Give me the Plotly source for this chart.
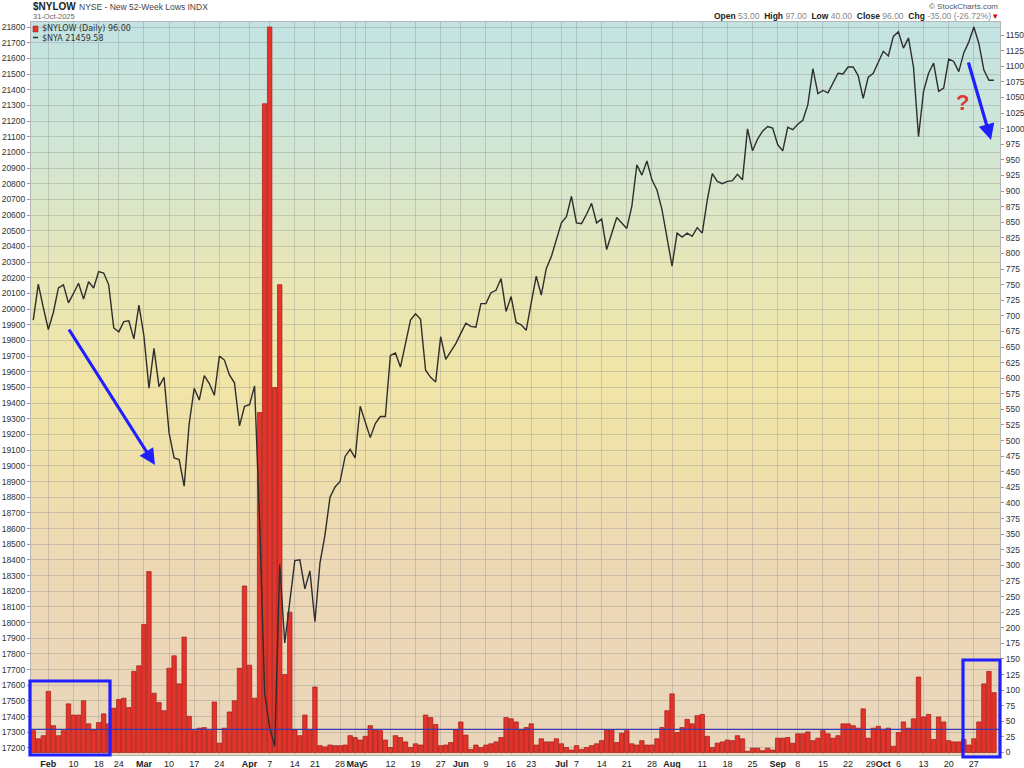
import plotly.graph_objects as go
import pandas as pd

# ---------------- data ----------------
HOLIDAYS = ["2025-02-17", "2025-04-18", "2025-05-26", "2025-06-19", "2025-07-04", "2025-09-01"]
START_DATE = "2025-01-29"
END_DATE = "2025-10-31"
dates = [d.strftime("%Y-%m-%d") for d in pd.bdate_range(START_DATE, END_DATE)
         if d.strftime("%Y-%m-%d") not in HOLIDAYS]

# $NYLOW daily new 52-week lows (right axis)
NYLOW = [35, 22, 27, 98, 43, 27, 35, 78, 60, 60,
         83, 46, 36, 48, 62, 46, 71, 85, 87, 72,
         130, 139, 205, 290, 95, 80, 67, 135, 155, 110,
         185, 58, 35, 39, 40, 35, 81, 15, 39, 65,
         83, 135, 267, 140, 87, 545, 1040, 1163, 585, 750,
         125, 225, 36, 27, 60, 36, 105, 11, 9, 12,
         11, 11, 12, 27, 24, 20, 26, 43, 36, 35,
         20, 8, 27, 24, 17, 8, 14, 12, 60, 56,
         45, 11, 12, 16, 36, 49, 28, 5, 12, 8,
         12, 14, 17, 24, 56, 54, 49, 36, 40, 46,
         12, 22, 17, 17, 22, 14, 8, 4, 11, 5,
         8, 11, 14, 19, 36, 36, 16, 31, 35, 14,
         12, 19, 12, 12, 22, 40, 67, 94, 32, 40,
         53, 46, 59, 61, 26, 8, 15, 17, 20, 19,
         27, 22, 2, 7, 7, 3, 7, 4, 23, 23,
         24, 15, 30, 30, 33, 19, 23, 35, 30, 23,
         27, 46, 46, 43, 39, 70, 23, 39, 42, 37,
         39, 10, 32, 49, 39, 54, 121, 57, 61, 21,
         57, 49, 19, 17, 17, 21, 12, 22, 49, 110,
         130, 96]

# $NYA NYSE Composite close (left axis)
NYA = [19930, 20160, 20010, 19870, 19980, 20135, 20155, 20040, 20100, 20165,
       20065, 20175, 20135, 20240, 20230, 20155, 19880, 19855, 19920, 19925,
       19810, 20025, 19830, 19495, 19750, 19505, 19565, 19210, 19050, 19040,
       18870, 19270, 19495, 19420, 19575, 19525, 19450, 19700, 19675, 19580,
       19530, 19255, 19380, 19390, 19510, 18650, 17550, 17330, 17210, 18370,
       17870, 18120, 18395, 18400, 18215, 18330, 18005, 18380, 18560, 18800,
       18865, 18900, 19060, 19105, 19050, 19380, 19280, 19180, 19270, 19315,
       19315, 19705, 19720, 19630, 19780, 19930, 19970, 19935, 19610, 19565,
       19535, 19825, 19680, 19730, 19780, 19845, 19910, 19890, 19885, 20035,
       20035, 20105, 20120, 20195, 19985, 20080, 19915, 19900, 19865, 20040,
       20210, 20090, 20260, 20335, 20445, 20550, 20590, 20720, 20550, 20545,
       20605, 20675, 20550, 20575, 20380, 20480, 20585, 20550, 20515, 20655,
       20920, 20855, 20945, 20825, 20760, 20635, 20465, 20275, 20485, 20460,
       20485, 20465, 20520, 20485, 20695, 20865, 20815, 20800, 20815, 20820,
       20860, 20825, 21150, 21010, 21085, 21135, 21165, 21155, 21050, 21010,
       21160, 21145, 21180, 21205, 21305, 21535, 21375, 21395, 21380, 21445,
       21505, 21500, 21545, 21545, 21490, 21345, 21480, 21505, 21575, 21645,
       21615, 21740, 21770, 21665, 21730, 21545, 21100, 21390, 21505, 21570,
       21390, 21410, 21595, 21580, 21515, 21635, 21705, 21800, 21695, 21525,
       21460, 21460]

TICK_DATES = ["2025-02-03", "2025-02-10", "2025-02-18", "2025-02-24", "2025-03-03", "2025-03-10",
              "2025-03-17", "2025-03-24", "2025-04-01", "2025-04-07", "2025-04-14", "2025-04-21",
              "2025-04-28", "2025-05-01", "2025-05-05", "2025-05-12", "2025-05-19", "2025-05-27",
              "2025-06-02", "2025-06-09", "2025-06-16", "2025-06-23", "2025-07-01", "2025-07-07",
              "2025-07-14", "2025-07-21", "2025-07-28", "2025-08-01", "2025-08-11", "2025-08-18",
              "2025-08-25", "2025-09-02", "2025-09-08", "2025-09-15", "2025-09-22", "2025-09-30",
              "2025-10-06", "2025-10-13", "2025-10-20", "2025-10-27"]
TICK_LABELS = ["Feb", "10", "18", "24", "Mar", "10", "17", "24", "Apr", "7", "14", "21",
               "28", "May", "5", "12", "19", "27", "Jun", "9", "16", "23", "Jul", "7",
               "14", "21", "28", "Aug", "11", "18", "25", "Sep", "8", "15", "22", "29Oct",
               "6", "13", "20", "27"]
MONTHS = ["Jan", "Feb", "Mar", "Apr", "May", "Jun", "Jul", "Aug", "Sep", "Oct", "Nov", "Dec"]

def fmt_tick(t):
    for m in MONTHS:
        if t.endswith(m):
            return t[:-3] + f"<b>{m}</b>"
    return t
ticktext = [fmt_tick(t) for t in TICK_LABELS]

REF_LEVEL = 37  # horizontal reference line on the lows axis

# ---------------- geometry helpers (pixel -> paper) ----------------
PL, PR, PT, PB = 31, 1000, 22, 755
def px(x):
    return (x - PL) / (PR - PL)
def py(y):
    return (PB - y) / (PB - PT)

FONT = "Liberation Sans"

fig = go.Figure()
fig.add_trace(go.Bar(
    x=dates, y=NYLOW, yaxis="y", name="$NYLOW (Daily)",
    marker=dict(color="#e3342c", line=dict(color="#a41a16", width=0.7)),
    showlegend=False, hoverinfo="x+y"))
fig.add_trace(go.Scatter(
    x=dates, y=NYA, yaxis="y2", name="$NYA", mode="lines",
    line=dict(color="#2e2e2e", width=1.4), showlegend=False))

# ---------------- background gradient ----------------
stops = [(0.00, (194, 227, 226)), (0.18, (210, 230, 212)), (0.33, (230, 230, 184)),
         (0.48, (240, 229, 167)), (0.60, (239, 224, 170)), (0.74, (237, 216, 182)),
         (1.00, (233, 213, 185))]
def color_at(t):
    for (t0, c0), (t1, c1) in zip(stops[:-1], stops[1:]):
        if t0 <= t <= t1:
            f = (t - t0) / (t1 - t0) if t1 > t0 else 0
            return "rgb(%d,%d,%d)" % tuple(round(a + (b - a) * f) for a, b in zip(c0, c1))
    return "rgb(%d,%d,%d)" % stops[-1][1]

shapes = []
N = 90
for k in range(N):
    t_top = k / N
    shapes.append(dict(type="rect", xref="paper", yref="paper", x0=0, x1=1,
                       y0=1 - (k + 1) / N - 0.001, y1=1 - t_top,
                       fillcolor=color_at((k + 0.5) / N), line=dict(width=0), layer="below"))

# reference line
shapes.append(dict(type="line", xref="paper", yref="y", x0=0, x1=1, y0=REF_LEVEL, y1=REF_LEVEL,
                   line=dict(color="#3a3ab0", width=1.3), layer="above"))
# blue boxes
shapes.append(dict(type="rect", xref="paper", yref="paper", x0=px(30), x1=px(110),
                   y0=py(755), y1=py(681), line=dict(color="#1f1fff", width=3.2), layer="above"))
shapes.append(dict(type="rect", xref="paper", yref="paper", x0=px(963), x1=px(1000),
                   y0=py(757), y1=py(660), line=dict(color="#1f1fff", width=3.2), layer="above"))
# legend swatches
shapes.append(dict(type="rect", xref="paper", yref="paper", x0=px(33), x1=px(38),
                   y0=py(32), y1=py(26), fillcolor="#e3342c", line=dict(color="#a41a16", width=0.5),
                   layer="above"))
shapes.append(dict(type="line", xref="paper", yref="paper", x0=px(33), x1=px(38),
                   y0=py(37.5), y1=py(37.5), line=dict(color="#2e2e2e", width=1.5), layer="above"))

annotations = [
    dict(x=px(31), y=py(7), xref="paper", yref="paper", xanchor="left", yanchor="middle",
         text="<b>$NYLOW</b>", showarrow=False, font=dict(family=FONT, size=10, color="#222")),
    dict(x=px(77), y=py(7), xref="paper", yref="paper", xanchor="left", yanchor="middle",
         text="NYSE - New 52-Week Lows INDX", showarrow=False,
         font=dict(family=FONT, size=8.5, color="#444")),
    dict(x=px(31), y=py(16), xref="paper", yref="paper", xanchor="left", yanchor="middle",
         text="31-Oct-2025", showarrow=False, font=dict(family=FONT, size=7.5, color="#666")),
    dict(x=px(1000), y=py(6), xref="paper", yref="paper", xanchor="right", yanchor="middle",
         text="© StockCharts.com", showarrow=False, font=dict(family=FONT, size=8, color="#555")),
    dict(x=px(1000), y=py(16), xref="paper", yref="paper", xanchor="right", yanchor="middle",
         text=("<b>Open</b> <span style='color:#888'>53.00</span>  <b>High</b> "
               "<span style='color:#888'>97.00</span>  <b>Low</b> <span style='color:#888'>40.00</span>  "
               "<b>Close</b> <span style='color:#888'>96.00</span>  <b>Chg</b> "
               "<span style='color:#888'>-35.00 (-26.72%)</span> <span style='color:#d00'>▾</span>"),
         showarrow=False, font=dict(family=FONT, size=8.5, color="#222")),
    dict(x=px(40), y=py(28), xref="paper", yref="paper", xanchor="left", yanchor="middle",
         text="$NYLOW (Daily) 96.00", showarrow=False,
         font=dict(family="DejaVu Sans", size=8, color="#333")),
    dict(x=px(40), y=py(38), xref="paper", yref="paper", xanchor="left", yanchor="middle",
         text="$NYA 21459.58", showarrow=False,
         font=dict(family="DejaVu Sans", size=8, color="#333")),
    # arrows
    dict(x=px(155), y=py(465), xref="paper", yref="paper", ax=-87, ay=-137, axref="pixel", ayref="pixel",
         showarrow=True, arrowhead=2, arrowsize=1.0, arrowwidth=3.2, arrowcolor="#1f1fff", text=""),
    dict(x=px(991), y=py(140), xref="paper", yref="paper", ax=-23, ay=-79, axref="pixel", ayref="pixel",
         showarrow=True, arrowhead=2, arrowsize=1.0, arrowwidth=3.2, arrowcolor="#1f1fff", text=""),
    dict(x=px(962), y=py(103), xref="paper", yref="paper", xanchor="center", yanchor="middle",
         text="<b>?</b>", showarrow=False, font=dict(family=FONT, size=22, color="#e03a3a")),
]

GRID = "rgba(140,140,140,0.35)"
fig.update_layout(
    width=1024, height=768,
    margin=dict(l=PL, r=1024 - PR, t=PT, b=768 - PB, autoexpand=False),
    paper_bgcolor="white", plot_bgcolor="rgba(0,0,0,0)",
    bargap=0.12,
    shapes=shapes, annotations=annotations,
    font=dict(family=FONT, color="#222"),
    xaxis=dict(type="category", range=[-0.45, 192.2], tickmode="array",
               tickvals=TICK_DATES, ticktext=ticktext, tickangle=0,
               tickfont=dict(family=FONT, size=9, color="#222"),
               showgrid=True, gridcolor=GRID, gridwidth=1, ticks="",
               showline=True, linecolor="#b5b5b5", mirror=True, automargin=False),
    yaxis=dict(side="right", range=[-4, 1171], tickmode="linear", tick0=0, dtick=25,
               tickformat="d",
               tickfont=dict(family=FONT, size=8.5, color="#333"),
               showgrid=False, zeroline=False, ticks="outside", ticklen=3, tickcolor="#999",
               showline=True, linecolor="#b5b5b5", automargin=False),
    yaxis2=dict(side="left", overlaying="y", range=[17155, 21832], tickmode="linear",
                tick0=17200, dtick=100, tickformat="d",
                tickfont=dict(family=FONT, size=8.5, color="#333"),
                showgrid=True, gridcolor=GRID, gridwidth=1, zeroline=False,
                ticks="outside", ticklen=3, tickcolor="#999",
                showline=True, linecolor="#b5b5b5", automargin=False),
)

fig.write_html("out.html", config={"displayModeBar": False},
               post_script="document.body.style.margin='0px';document.body.style.overflow='hidden';")
